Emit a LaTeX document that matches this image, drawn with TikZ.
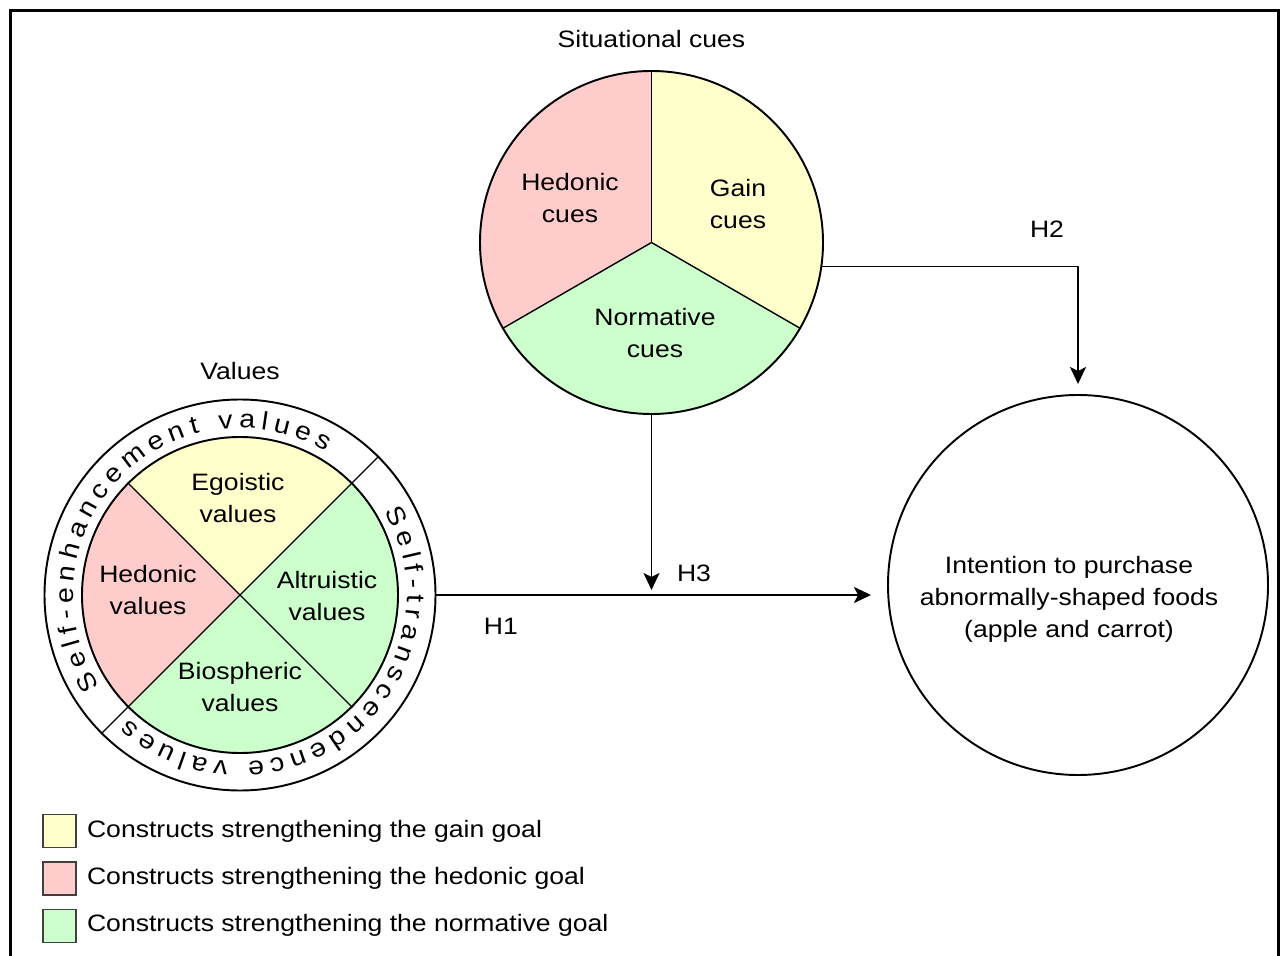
\documentclass[tikz,border=0pt]{standalone}
\usepackage{fontspec}
\setmainfont{Liberation Sans}[FakeStretch=1.12]
\usetikzlibrary{calc}
\usetikzlibrary{arrows.meta}
\usetikzlibrary{positioning}
\usetikzlibrary{decorations.text}
\definecolor{gainfill}{HTML}{FFFFCC}
\definecolor{hedofill}{HTML}{FFCCCC}
\definecolor{normfill}{HTML}{CCFFCC}
\newcommand{\ringfont}{\fontsize{14.5}{16}\selectfont}
\tikzset{disc/.style={draw, circle, line width=1.1pt, inner sep=0pt}}
\tikzset{part/.style={draw, line width=0.8pt}}
\tikzset{txt/.style={align=center, inner sep=0pt}}
\tikzset{connect/.style={draw, line width=1.1pt}}
\tikzset{flow/.style={connect, -{Stealth[length=0.34cm, width=0.32cm, inset=0.08cm]}}}
\tikzset{swatch/.style={draw=black!75, line width=0.8pt, minimum size=0.66cm, inner sep=0pt}}

\begin{document}
\begin{tikzpicture}[font=\fontsize{13.5}{18.2}\selectfont]

\useasboundingbox (0,0) rectangle (25.72,19.10);
\draw[line width=1.7pt] (0.21,-0.3) |- (25.57,18.89) -- (25.57,-0.3);

%situational cues
\coordinate (cc) at (13.03,14.25);
\fill[hedofill] (cc) -- ++(90:3.43) arc[start angle=90, end angle=210, radius=3.43] -- cycle;
\fill[normfill] (cc) -- ++(210:3.43) arc[start angle=210, end angle=330, radius=3.43] -- cycle;
\fill[gainfill] (cc) -- ++(330:3.43) arc[start angle=330, end angle=450, radius=3.43] -- cycle;
\node[disc, minimum size=6.86cm] (cues) at (cc) {};
\foreach \a in {90,210,330} \path[part] (cues.center) -- (cues.\a);

\node (cuestitle) at ([yshift=0.62cm]cues.north) {Situational cues};
\node[txt] (hedcues) at ([shift={(-1.63,0.89)}]cues.center) {Hedonic\\cues};
\node[txt] (gaincues) at ([shift={(1.73,0.77)}]cues.center) {Gain\\cues};
\node[txt] (normcues) at ([shift={(0.07,-1.81)}]cues.center) {Normative\\cues};

%values
\coordinate (vc) at (4.80,7.20);
\node[disc, minimum size=7.82cm] (ring) at (vc) {};
\fill[gainfill] (vc) -- ++(45:3.16) arc[start angle=45, end angle=135, radius=3.16] -- cycle;
\fill[hedofill] (vc) -- ++(135:3.16) arc[start angle=135, end angle=225, radius=3.16] -- cycle;
\fill[normfill] (vc) -- ++(225:3.16) arc[start angle=225, end angle=405, radius=3.16] -- cycle;
\node[disc, minimum size=6.32cm] (values) at (vc) {};
\path[part] (values.45) -- (values.225);
\path[part] (values.135) -- (values.315);
\path[part] (values.45) -- (ring.45);
\path[part] (values.225) -- (ring.225);

\path[decorate, decoration={text along path, text={|\ringfont|Self-enhancement values}, text align={fit to path}}]
  ($(vc)+(213:3.34)$) arc[start angle=213, end angle=59, radius=3.34];
\path[decorate, decoration={text along path, text={|\ringfont|Self-transcendence values}, text align={fit to path}}]
  ($(vc)+(30:3.34)$) arc[start angle=30, end angle=-132, radius=3.34];

\node (valtitle) at ([yshift=0.55cm]ring.north) {Values};
\node[txt] (egoval) at ([shift={(-0.04,1.94)}]values.center) {Egoistic\\values};
\node[txt] (hedval) at ([shift={(-1.84,0.10)}]values.center) {Hedonic\\values};
\node[txt] (altval) at ([shift={(1.74,-0.02)}]values.center) {Altruistic\\values};
\node[txt] (bioval) at ([shift={(0,-1.84)}]values.center) {Biospheric\\values};

%intention
\node[disc, minimum size=7.6cm] (target) at (21.56,7.40) {};
\node[txt] (intent) at ([shift={(-0.18,-0.28)}]target.center) {Intention to purchase\\abnormally-shaped foods\\(apple and carrot)};

%hypotheses
\path[flow, shorten >=0.32cm] (ring.east) -- node[pos=0.143, yshift=-0.62cm] (h1) {H1} (ring.east -| target.west);
\path[flow, shorten >=0.1cm] (cues.south) -- node[pos=0.88, xshift=0.85cm] (h3) {H3} (cues.south |- ring.east);
\path[flow, shorten >=0.2cm] (cues.-8) -| node[pos=0.5, xshift=-0.62cm, yshift=0.74cm] (h2) {H2} (target.north);

%legend
\node[swatch, fill=gainfill] (gainbox) at (1.19,2.48) {};
\node[swatch, fill=hedofill, below=0.26cm of gainbox] (hedobox) {};
\node[swatch, fill=normfill, below=0.26cm of hedobox] (normbox) {};
\node[inner sep=0pt, right=0.2cm of gainbox] (gaintxt) {Constructs strengthening the gain goal};
\node[inner sep=0pt, right=0.2cm of hedobox] (hedotxt) {Constructs strengthening the hedonic goal};
\node[inner sep=0pt, right=0.2cm of normbox] (normtxt) {Constructs strengthening the normative goal};

\end{tikzpicture}
\end{document}
